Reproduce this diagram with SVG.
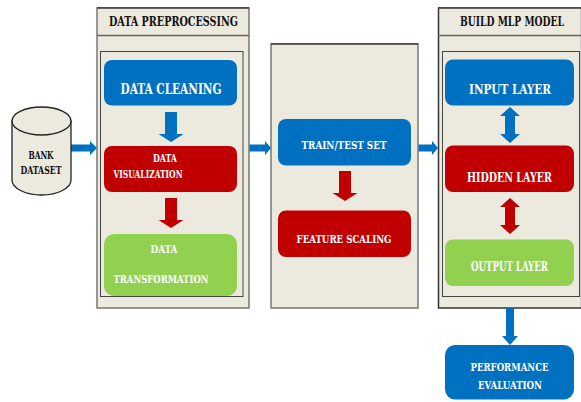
<svg xmlns="http://www.w3.org/2000/svg" width="581" height="402" viewBox="0 0 581 402">
<style>
text{font-family:"DejaVu Serif","Liberation Serif",serif;font-weight:bold;font-stretch:condensed;text-anchor:middle;fill:#fff}
.dark{fill:#111}
.panel{fill:#ece9df;stroke:#777772;stroke-width:1.500}
.top{stroke:#333;stroke-width:1.200}
.inner{fill:#ece9df;stroke:#444;stroke-width:1}
.blue{fill:#0070c0}.red{fill:#c00000}.green{fill:#92d050}
</style>
<g id="panel-preprocessing">
<rect class="panel" x="97" y="8" width="152" height="300"/>
<line class="top" x1="97" y1="7.800" x2="249" y2="7.800"/>
<line x1="97" y1="35.500" x2="249" y2="35.500" stroke="#666661" stroke-width="1.500"/>
<rect class="inner" x="100.500" y="51.500" width="142.500" height="245"/>
<text class="dark" x="173.500" y="26" font-size="13" textLength="129" lengthAdjust="spacingAndGlyphs">DATA PREPROCESSING</text>
</g>
<g id="panel-split">
<rect class="panel" x="271" y="44" width="147" height="264"/>
<line class="top" x1="271" y1="43.800" x2="418" y2="43.800"/>
</g>
<g id="panel-model">
<rect class="panel" x="438.500" y="8" width="143" height="300"/>
<line class="top" x1="438" y1="7.800" x2="581" y2="7.800"/>
<line class="top" x1="438.500" y1="8" x2="438.500" y2="308"/>
<line class="top" x1="438" y1="308" x2="581" y2="308"/>
<line x1="438" y1="35.500" x2="581" y2="35.500" stroke="#666661" stroke-width="1.500"/>
<rect class="inner" x="442.500" y="51.500" width="137" height="245"/>
<text class="dark" x="512" y="26" font-size="12.500" textLength="104" lengthAdjust="spacingAndGlyphs">BUILD MLP MODEL</text>
</g>
<g id="connectors">
<path class="blue" d="M71 144.500H90V141L97 148L90 155V151.500H71Z"/>
<path class="blue" d="M249.500 144.500H265V141L271 148L265 155V151.500H249.500Z"/>
<path class="blue" d="M418.500 144.500H432V141L438 148L432 155V151.500H418.500Z"/>
<path class="blue" d="M165 112H177V134H183.500L171 142L158.500 134H165Z"/>
<path class="red" d="M165 198H177V220H183.500L171 228L158.500 220H165Z"/>
<path class="red" d="M339 171H351V193H357.500L345 201L332.500 193H339Z"/>
<path class="blue" d="M510 107L520 116H515V134H520L510 143L500 134H505V116H500Z"/>
<path class="red" d="M510 198L520 207H515V225H520L510 234L500 225H505V207H500Z"/>
<path class="blue" d="M506 308H514V336H518L510 345L502 336H506Z"/>
</g>
<g id="bank-dataset">
<path d="M12 121V180C12 188 25 195 41.500 195C58 195 71 188 71 180V121Z" fill="#ece9df" stroke="#222" stroke-width="1.300"/>
<ellipse cx="41.500" cy="121" rx="29.500" ry="14" fill="#ece9df" stroke="#222" stroke-width="1.300"/>
<text class="dark" x="41" y="159" font-size="11" textLength="25" lengthAdjust="spacingAndGlyphs">BANK</text>
<text class="dark" x="41" y="174" font-size="11" textLength="41" lengthAdjust="spacingAndGlyphs">DATASET</text>
</g>
<g id="data-cleaning">
<rect class="blue" x="104" y="60" width="133" height="45.500" rx="8"/>
<text x="171" y="93.500" font-size="14" textLength="101" lengthAdjust="spacingAndGlyphs">DATA CLEANING</text>
</g>
<g id="data-visualization">
<rect class="red" x="104" y="146" width="133" height="46" rx="8"/>
<text x="165" y="162" font-size="11" textLength="24" lengthAdjust="spacingAndGlyphs">DATA</text>
<text x="148" y="177.500" font-size="11" textLength="69" lengthAdjust="spacingAndGlyphs">VISUALIZATION</text>
</g>
<g id="data-transformation">
<rect class="green" x="104" y="234" width="133" height="62" rx="10"/>
<text x="164" y="253" font-size="11" textLength="27" lengthAdjust="spacingAndGlyphs">DATA</text>
<text x="161" y="283" font-size="11" textLength="95" lengthAdjust="spacingAndGlyphs">TRANSFORMATION</text>
</g>
<g id="train-test-set">
<rect class="blue" x="278" y="119" width="133" height="46.500" rx="8"/>
<text x="344" y="148.500" font-size="11.500" textLength="85" lengthAdjust="spacingAndGlyphs">TRAIN/TEST SET</text>
</g>
<g id="feature-scaling">
<rect class="red" x="278" y="210.500" width="133" height="46.500" rx="8"/>
<text x="344" y="242.500" font-size="11.500" textLength="95" lengthAdjust="spacingAndGlyphs">FEATURE SCALING</text>
</g>
<g id="input-layer">
<rect class="blue" x="445" y="59.500" width="129" height="46" rx="8"/>
<text x="510" y="93.500" font-size="13.500" textLength="82" lengthAdjust="spacingAndGlyphs">INPUT LAYER</text>
</g>
<g id="hidden-layer">
<rect class="red" x="445" y="145.500" width="129" height="46.500" rx="8"/>
<text x="509.500" y="182" font-size="13" textLength="85" lengthAdjust="spacingAndGlyphs">HIDDEN LAYER</text>
</g>
<g id="output-layer">
<rect class="green" x="445" y="239.500" width="129" height="46.500" rx="8"/>
<text x="509.500" y="271" font-size="12" textLength="77" lengthAdjust="spacingAndGlyphs">OUTPUT LAYER</text>
</g>
<g id="performance-evaluation">
<rect class="blue" x="445" y="345" width="129" height="54.500" rx="10"/>
<text x="509.500" y="371" font-size="11.500" textLength="78" lengthAdjust="spacingAndGlyphs">PERFORMANCE</text>
<text x="510" y="388.500" font-size="11.500" textLength="64" lengthAdjust="spacingAndGlyphs">EVALUATION</text>
</g>
</svg>
